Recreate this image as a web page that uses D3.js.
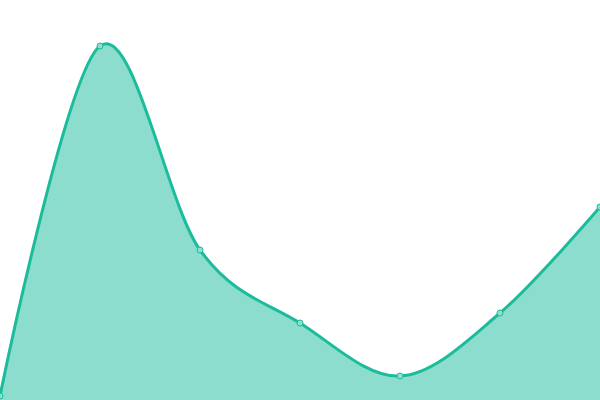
<!DOCTYPE html>
<html><head><meta charset="utf-8">
<script src="https://cdn.jsdelivr.net/npm/d3@7"></script>
<style>html,body{margin:0;padding:0;background:#fff;overflow:hidden}</style>
</head><body>
<svg id="c" width="600" height="400"></svg>
<script>
const categories = [0, 1, 2, 3, 4, 5, 6];
const values = [4, 354, 150, 77, 24, 87, 193];

const W = 600, H = 400;
const x = d3.scaleLinear().domain([0, 6]).range([0, W]);
const y = d3.scaleLinear().domain([0, 400]).range([H, 0]);
const data = categories.map((c, i) => ({c, v: values[i]}));
const svg = d3.select("#c");
const curve = d3.curveCardinal.tension(0);
svg.append("path").datum(data)
  .attr("d", d3.area().x(d => x(d.c)).y0(H).y1(d => y(d.v)).curve(curve))
  .attr("fill", "#1abc9c").attr("fill-opacity", 0.5);
svg.append("path").datum(data)
  .attr("d", d3.line().x(d => x(d.c)).y(d => y(d.v)).curve(curve))
  .attr("fill", "none").attr("stroke", "#1abc9c").attr("stroke-width", 3);
svg.selectAll("circle").data(data).enter().append("circle")
  .attr("cx", d => x(d.c)).attr("cy", d => y(d.v)).attr("r", 3)
  .attr("fill", "#8de0cf").attr("stroke", "#1abc9c").attr("stroke-width", 1);
</script>
</body></html>
